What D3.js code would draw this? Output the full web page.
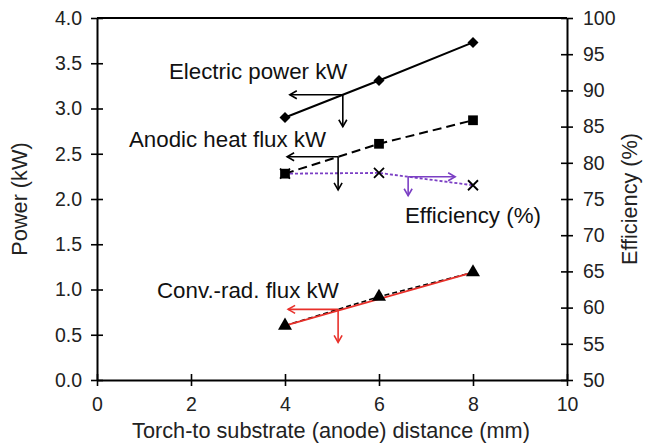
<!DOCTYPE html>
<html>
<head>
<meta charset="utf-8">
<script src="https://cdn.jsdelivr.net/npm/d3@7"></script>
<style>
  html, body { margin: 0; padding: 0; background: #fff; }
  svg { display: block; font-family: "Liberation Sans", Arial, sans-serif; }
</style>
</head>
<body>
<svg id="chart" width="645" height="446"></svg>
<script>
// Torch-to-substrate distance (mm)
const distance = [4, 6, 8];
// Power series (kW)
const electricPower = [2.9, 3.31, 3.73];
const anodicHeatFlux = [2.28, 2.61, 2.87];
const convRadFlux = [0.6, 0.92, 1.19];
// Efficiency (%)
const efficiency = [78.5, 78.6, 76.9];

const xTicks = [0, 2, 4, 6, 8, 10];
const powerTicks = [0, 0.5, 1, 1.5, 2, 2.5, 3, 3.5, 4];
const effTicks = [50, 55, 60, 65, 70, 75, 80, 85, 90, 95, 100];

const svg = d3.select("#chart");
const plotLeft = 97, plotRight = 567, plotTop = 18, plotBottom = 380;

const x = d3.scaleLinear().domain([0, 10]).range([plotLeft, plotRight]);
const yP = d3.scaleLinear().domain([0, 4]).range([plotBottom, plotTop]);
const yE = d3.scaleLinear().domain([50, 100]).range([plotBottom, plotTop]);

const tickFont = 19.5, titleFont = 21.7, labelFont = 22.3;

// Axes
function styleAxis(g) {
  g.select(".domain").attr("stroke", "#000").attr("stroke-width", 2);
  g.selectAll(".tick line").attr("stroke", "#000").attr("stroke-width", 1.6);
  g.selectAll(".tick text").attr("fill", "#222").attr("font-size", tickFont)
    .attr("font-family", "Liberation Sans, Arial, sans-serif");
}

const gx = svg.append("g").attr("transform", `translate(0,${plotBottom})`)
  .call(d3.axisBottom(x).tickValues(xTicks).tickFormat(d3.format("d"))
    .tickSize(6).tickSizeOuter(0).tickPadding(11));
styleAxis(gx);
gx.selectAll(".tick line").attr("y1", -6).attr("y2", 6);

const gl = svg.append("g").attr("transform", `translate(${plotLeft},0)`)
  .call(d3.axisLeft(yP).tickValues(powerTicks).tickFormat(d3.format(".1f"))
    .tickSize(6).tickSizeOuter(0).tickPadding(9));
styleAxis(gl);
gl.selectAll(".tick line").attr("x1", -6).attr("x2", 6);

const gr = svg.append("g").attr("transform", `translate(${plotRight},0)`)
  .call(d3.axisRight(yE).tickValues(effTicks).tickFormat(d3.format("d"))
    .tickSize(6).tickSizeOuter(0).tickPadding(10));
styleAxis(gr);
gr.selectAll(".tick line").attr("x1", -6).attr("x2", 6);

// Top frame line
svg.append("line").attr("x1", plotLeft).attr("x2", plotRight).attr("y1", plotTop).attr("y2", plotTop)
  .attr("stroke", "#000").attr("stroke-width", 2);

// Axis titles
svg.append("text").attr("transform", `translate(27,${(plotTop + plotBottom) / 2}) rotate(-90)`)
  .attr("text-anchor", "middle").attr("font-size", titleFont).attr("fill", "#222").text("Power (kW)");
svg.append("text").attr("transform", `translate(637,${(plotTop + plotBottom) / 2}) rotate(-90)`)
  .attr("text-anchor", "middle").attr("font-size", titleFont).attr("fill", "#222").text("Efficiency (%)");
svg.append("text").attr("x", 331).attr("y", 438)
  .attr("text-anchor", "middle").attr("font-size", titleFont).attr("fill", "#222")
  .text("Torch-to substrate (anode) distance (mm)");

const purple = "#7b3fc4";
const red = "#e8302a";

// Series lines
const lineP = d3.line().x((d, i) => x(distance[i])).y(d => yP(d));
const lineE = d3.line().x((d, i) => x(distance[i])).y(d => yE(d));

svg.append("path").attr("d", lineP(electricPower)).attr("fill", "none")
  .attr("stroke", "#000").attr("stroke-width", 2);
svg.append("path").attr("d", lineP(anodicHeatFlux)).attr("fill", "none")
  .attr("stroke", "#000").attr("stroke-width", 2).attr("stroke-dasharray", "9,5");
svg.append("path").attr("d", lineP(convRadFlux)).attr("fill", "none")
  .attr("stroke", "#000").attr("stroke-width", 1.6).attr("stroke-dasharray", "5,3");
svg.append("path").attr("d", lineE(efficiency)).attr("fill", "none")
  .attr("stroke", purple).attr("stroke-width", 1.8).attr("stroke-dasharray", "3,2");

// Straight fit across the convective-radiative points
const fit = [convRadFlux[0], convRadFlux[convRadFlux.length - 1]];
svg.append("line")
  .attr("x1", x(distance[0])).attr("y1", yP(fit[0]))
  .attr("x2", x(distance[distance.length - 1])).attr("y2", yP(fit[1]))
  .attr("stroke", red).attr("stroke-width", 1.8);

// Markers
const sym = (type, size) => d3.symbol().type(type).size(size)();
function markers(vals, yScale, type, size, rot) {
  svg.append("g").selectAll("path").data(vals).join("path")
    .attr("transform", (d, i) => `translate(${x(distance[i])},${yScale(d)}) rotate(${rot || 0})`)
    .attr("d", sym(type, size)).attr("fill", "#000");
}
markers(electricPower, yP, d3.symbolSquare, 60, 45);
markers(anodicHeatFlux, yP, d3.symbolSquare, 95, 0);
markers(convRadFlux, yP, d3.symbolTriangle, 85, 0);
svg.append("g").selectAll("path").data(efficiency).join("path")
  .attr("transform", (d, i) => `translate(${x(distance[i])},${yE(d)})`)
  .attr("d", "M-5,-5L5,5M-5,5L5,-5").attr("stroke", "#000").attr("stroke-width", 1.8)
  .attr("fill", "none");

// Reading arrows: horizontal toward the relevant axis, vertical down to the distance axis
function interp(vals, xv) {
  for (let i = 0; i < distance.length - 1; i++) {
    if (xv >= distance[i] && xv <= distance[i + 1]) {
      const t = (xv - distance[i]) / (distance[i + 1] - distance[i]);
      return vals[i] + t * (vals[i + 1] - vals[i]);
    }
  }
  return vals[vals.length - 1];
}
function readArrows(vals, yScale, xv, hLen, vLen, color) {
  const px = x(xv), py = yScale(interp(vals, xv));
  const g = svg.append("g").attr("stroke", color).attr("stroke-width", 1.6).attr("fill", "none");
  const hx = px + hLen;
  const dir = Math.sign(hLen);
  g.append("path").attr("d", `M${px},${py}H${hx}`);
  g.append("path").attr("d", `M${hx - dir * 7},${py - 4}L${hx},${py}L${hx - dir * 7},${py + 4}`);
  g.append("path").attr("d", `M${px},${py}V${py + vLen}`);
  g.append("path").attr("d", `M${px - 4},${py + vLen - 7}L${px},${py + vLen}L${px + 4},${py + vLen - 7}`);
}
readArrows(electricPower, yP, 5.23, -53, 32, "#000");
readArrows(anodicHeatFlux, yP, 5.13, -51, 33, "#000");
readArrows(efficiency, yE, 6.62, 47, 19, purple);
readArrows(convRadFlux, yP, 5.13, -50, 33, red);

// Series labels
const labels = [
  { t: "Electric power kW", x: 169, y: 79 },
  { t: "Anodic heat flux kW", x: 129, y: 147 },
  { t: "Efficiency (%)", x: 405, y: 223 },
  { t: "Conv.-rad. flux kW", x: 157, y: 298 }
];
svg.append("g").selectAll("text").data(labels).join("text")
  .attr("x", d => d.x).attr("y", d => d.y).attr("font-size", labelFont).attr("fill", "#111")
  .text(d => d.t);
</script>
</body>
</html>
